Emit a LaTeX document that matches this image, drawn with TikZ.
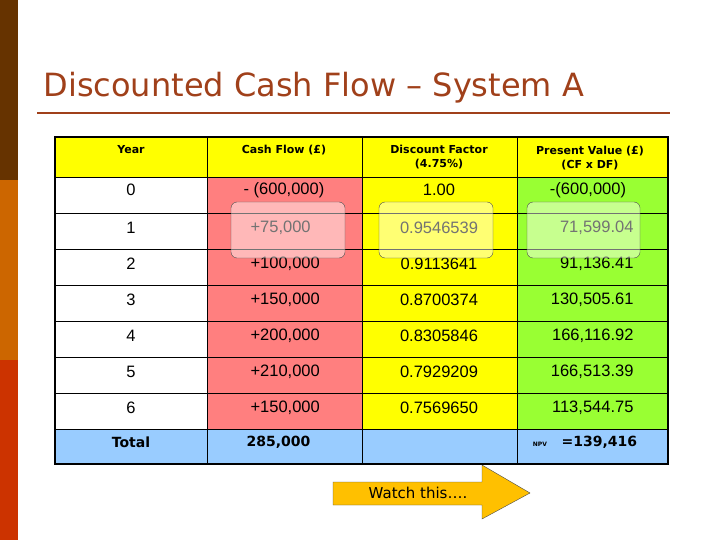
\documentclass[tikz,border=0pt]{standalone}
\usepackage{fontspec}
\setmainfont{Liberation Sans}
\newfontfamily\titlefont{DejaVu Sans}
\newfontfamily\numfont{Liberation Sans}
\definecolor{cfred}{HTML}{FF7F7F}
\definecolor{dfyel}{HTML}{FFFF00}
\definecolor{pvgrn}{HTML}{99FF33}
\definecolor{totblue}{HTML}{99CCFF}
\definecolor{titlec}{HTML}{A0401A}
\definecolor{barA}{HTML}{663300}
\definecolor{barB}{HTML}{CC6600}
\definecolor{barC}{HTML}{CC3300}
\definecolor{arrowc}{HTML}{FFC000}
\begin{document}
\begin{tikzpicture}[x=1pt,y=-1pt,
  cell/.style={font=\numfont\fontsize{16.5}{18}\selectfont},
  head/.style={font=\titlefont\bfseries\fontsize{11}{14}\selectfont,align=center},
  tot/.style={font=\titlefont\bfseries\fontsize{14}{16}\selectfont},
  hl/.style={draw=black!70,thin,fill=white,fill opacity=0.45,rounded corners=6pt}]
\useasboundingbox (0,0) rectangle (720,540);
\fill[barA] (0,0) rectangle (18,180);
\fill[barB] (0,180) rectangle (18,360);
\fill[barC] (0,360) rectangle (18,540);
\node[anchor=west,text=titlec,font=\titlefont\fontsize{32}{36}\selectfont] (title) at (40,88) {Discounted Cash Flow – System A};
\draw[titlec,line width=1.2pt] (37,113) -- (670,113);
% fills
\fill[dfyel] (55,137) rectangle (668,177);
\fill[white] (55,177) rectangle (207,429);
\fill[cfred] (207,177) rectangle (362,429);
\fill[dfyel] (362,177) rectangle (517,429);
\fill[pvgrn] (517,177) rectangle (668,429);
\fill[totblue] (55,429) rectangle (668,464);
% grid
\foreach \y in {177,213,249,285,321,357,393,429} \draw[thin] (55,\y) -- (668,\y);
\foreach \x in {207,362,517} \draw[thin] (\x,137) -- (\x,464);
\draw[line width=1.5pt] (55,137) rectangle (668,464);
% header
\node[head] (h1) at (131,150) {Year};
\node[head] (h2) at (284,150) {Cash Flow (£)};
\node[head] (h3) at (439,157) {Discount Factor\\(4.75\%)};
\node[head] (h4) at (590,158) {Present Value (£)\\(CF x DF)};
% row 0
\node[cell] (y0) at (131,190) {0};
\node[cell] (c0) at (284,190) {- (600,000)};
\node[cell] (d0) at (439,190) {1.00};
\node[cell] (p0) at (588,190) {-(600,000)};
% rows
\foreach \yr/\cf/\df/\pv in {1/+75{,}000/0.9546539/71{,}599.04,2/+100{,}000/0.9113641/91{,}136.41,3/+150{,}000/0.8700374/130{,}505.61,4/+200{,}000/0.8305846/166{,}116.92,5/+210{,}000/0.7929209/166{,}513.39,6/+150{,}000/0.7569650/113{,}544.75}{
  \node[cell] (y\yr) at (131,{192+36*\yr}) {\yr};
  \node[cell,anchor=west] (c\yr) at (247,{192+36*\yr}) {\cf};
  \node[cell] (d\yr) at (439,{192+36*\yr}) {\df};
  \node[cell,anchor=east] (p\yr) at (637,{192+36*\yr}) {\pv};
}
\node[tot] (tot) at (131,442) {Total};
\node[tot,anchor=west] (tcf) at (243,442) {285,000};
\node[font=\titlefont\bfseries\fontsize{6}{7}\selectfont] (npvl) at (540,444) {NPV};
\node[tot,anchor=west] (npv) at (558,442) {=139,416};
% highlights
\draw[hl] (231,202) rectangle (345,258);
\draw[hl] (379,202) rectangle (493,258);
\draw[hl] (527,202) rectangle (640,258);
% arrow
\draw[black!70,fill=arrowc] (333,482) -- (482,482) -- (482,465) -- (530,493) -- (482,519) -- (482,505) -- (333,505) -- cycle;
\node[font=\titlefont\fontsize{15}{17}\selectfont] (watch) at (418,493) {Watch this….};
\end{tikzpicture}
\end{document}
